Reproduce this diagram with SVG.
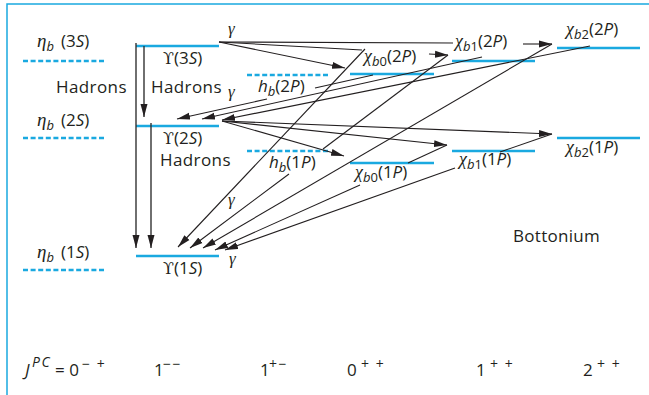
<svg xmlns="http://www.w3.org/2000/svg" width="649" height="395" viewBox="0 0 649 395">
<style>
.t{font-family:"Open Sans","Liberation Sans",sans-serif;font-size:17px;fill:#231f20}
.g{font-family:"Liberation Serif","DejaVu Serif",serif;font-style:italic}
.u{font-family:"DejaVu Serif","Liberation Serif",serif;font-size:16px}
.i{font-style:italic}
.s{font-size:13px}
.sp{font-family:"Open Sans","Liberation Sans",sans-serif;font-size:14px;fill:#231f20;letter-spacing:1.5px}
.lv{stroke:#1aa9e0;stroke-width:2.6;fill:none}
.d{stroke-dasharray:5 2.6}
.c{stroke:#231f20;stroke-width:1.1;fill:none}
.v{stroke:#333;stroke-width:1.4;fill:none}
.a{marker-end:url(#ah)}
</style>
<defs>
<marker id="ah" markerUnits="userSpaceOnUse" markerWidth="14" markerHeight="8" refX="13" refY="4" orient="auto">
<path d="M0,0.5 L13,4 L0,7.5 Z" fill="#231f20"/>
</marker>
</defs>
<path d="M7,395 V4 H649" stroke="#1aa9e0" stroke-width="1.5" fill="none"/>

<g id="etab3S"><line class="lv d" x1="23" y1="61" x2="104" y2="61"/><text class="t" x="37" y="47"><tspan class="g" font-size="19">η</tspan><tspan class="i s" dy="4">b</tspan><tspan dy="-4" dx="7">(3</tspan><tspan class="i">S</tspan>)</text></g>
<g id="etab2S"><line class="lv d" x1="23" y1="138" x2="104" y2="138"/><text class="t" x="37" y="126"><tspan class="g" font-size="19">η</tspan><tspan class="i s" dy="4">b</tspan><tspan dy="-4" dx="7">(2</tspan><tspan class="i">S</tspan>)</text></g>
<g id="etab1S"><line class="lv d" x1="23" y1="270" x2="104" y2="270"/><text class="t" x="37" y="258"><tspan class="g" font-size="19">η</tspan><tspan class="i s" dy="4">b</tspan><tspan dy="-4" dx="7">(1</tspan><tspan class="i">S</tspan>)</text></g>

<g id="ups3S"><line class="lv" x1="136" y1="46" x2="219" y2="46"/><text class="t" x="163" y="64"><tspan class="u">ϒ</tspan>(3<tspan class="i">S</tspan>)</text></g>
<g id="ups2S"><line class="lv" x1="136" y1="126" x2="219" y2="126"/><text class="t" x="163" y="144"><tspan class="u">ϒ</tspan>(2<tspan class="i">S</tspan>)</text></g>
<g id="ups1S"><line class="lv" x1="136" y1="256" x2="219" y2="256"/><text class="t" x="163" y="274"><tspan class="u">ϒ</tspan>(1<tspan class="i">S</tspan>)</text></g>

<g id="hb2P"><line class="lv d" x1="247" y1="75" x2="328" y2="75"/><text class="t" x="258" y="92"><tspan class="i">h</tspan><tspan class="i s" dy="4">b</tspan><tspan dy="-4">(2</tspan><tspan class="i">P</tspan>)</text></g>
<g id="hb1P"><line class="lv d" x1="247" y1="151" x2="328" y2="151"/><text class="t" x="269" y="168"><tspan class="i">h</tspan><tspan class="i s" dy="4">b</tspan><tspan dy="-4">(1</tspan><tspan class="i">P</tspan>)</text></g>

<g id="chib02P"><line class="lv" x1="350" y1="74" x2="434" y2="74"/><text class="t" x="364" y="62"><tspan class="g" font-size="18">χ</tspan><tspan class="s" dy="4"><tspan class="i">b</tspan>0</tspan><tspan dy="-4">(2</tspan><tspan class="i">P</tspan>)</text></g>
<g id="chib12P"><line class="lv" x1="452" y1="61" x2="535" y2="61"/><text class="t" x="455" y="47"><tspan class="g" font-size="18">χ</tspan><tspan class="s" dy="4"><tspan class="i">b</tspan>1</tspan><tspan dy="-4">(2</tspan><tspan class="i">P</tspan>)</text></g>
<g id="chib22P"><line class="lv" x1="557" y1="48" x2="640" y2="48"/><text class="t" x="566" y="35"><tspan class="g" font-size="18">χ</tspan><tspan class="s" dy="4"><tspan class="i">b</tspan>2</tspan><tspan dy="-4">(2</tspan><tspan class="i">P</tspan>)</text></g>
<g id="chib01P"><line class="lv" x1="350" y1="163" x2="434" y2="163"/><text class="t" x="355" y="178"><tspan class="g" font-size="18">χ</tspan><tspan class="s" dy="4"><tspan class="i">b</tspan>0</tspan><tspan dy="-4">(1</tspan><tspan class="i">P</tspan>)</text></g>
<g id="chib11P"><line class="lv" x1="452" y1="151" x2="535" y2="151"/><text class="t" x="459" y="165"><tspan class="g" font-size="18">χ</tspan><tspan class="s" dy="4"><tspan class="i">b</tspan>1</tspan><tspan dy="-4">(1</tspan><tspan class="i">P</tspan>)</text></g>
<g id="chib21P"><line class="lv" x1="557" y1="138" x2="640" y2="138"/><text class="t" x="566" y="153"><tspan class="g" font-size="18">χ</tspan><tspan class="s" dy="4"><tspan class="i">b</tspan>2</tspan><tspan dy="-4">(1</tspan><tspan class="i">P</tspan>)</text></g>

<g id="connectors">
<path class="v a" d="M136,43 V248"/>
<path class="v a" d="M144,46 V117"/>
<path class="v a" d="M151,123 V248"/>
<path class="c a" d="M219,42 L345,68"/>
<path class="c" d="M219,42 L362,50"/>
<path class="c a" d="M429,54 L448,55"/>
<path class="c" d="M219,42 L453,43"/>
<path class="c a" d="M523,44 L552,44"/>
<path class="c a" d="M365,49 L178,247"/>
<path class="c" d="M448,55 L323,149"/>
<path class="c a" d="M289,174 L190,248"/>
<path class="c a" d="M552,44 L203,248"/>
<path class="c" d="M447,145 L408,163"/>
<path class="c a" d="M360,185 L215,250"/>
<path class="c" d="M552,134 L500,152"/>
<path class="c a" d="M455,168 L225,250"/>
<path class="c a" d="M482,57 L202,119"/>
<path class="c a" d="M590,46 L222,120"/>
<path class="c" d="M373,75 L315,88"/>
<path class="c a" d="M267,99 L177,119"/>
<path class="c a" d="M222,121 L344,156"/>
<path class="c a" d="M222,121 L447,145"/>
<path class="c a" d="M222,121 L552,134"/>
</g>

<g id="labels">
<text class="t" x="56" y="93" letter-spacing="0.4">Hadrons</text>
<text class="t" x="151" y="93" letter-spacing="0.4">Hadrons</text>
<text class="t" x="160" y="166" letter-spacing="0.4">Hadrons</text>
<text class="t g" font-size="16" x="228" y="34">γ</text>
<text class="t g" font-size="16" x="228" y="97">γ</text>
<text class="t g" font-size="16" x="228" y="205">γ</text>
<text class="t g" font-size="16" x="229" y="264">γ</text>
<text class="t" x="513" y="242" letter-spacing="0.3">Bottonium</text>
<text class="t" x="25" y="376"><tspan class="i">J</tspan></text>
<text class="sp i" x="32" y="367">PC</text>
<text class="t" x="55" y="376">= 0</text>
<text class="sp" x="82" y="369">− +</text>
<text class="t" x="154" y="376">1</text>
<text class="sp" x="163" y="369">−−</text>
<text class="t" x="260" y="376">1</text>
<text class="sp" x="269" y="369">+−</text>
<text class="t" x="347" y="376">0</text>
<text class="sp" x="361" y="369">+ +</text>
<text class="t" x="476" y="376">1</text>
<text class="sp" x="490" y="369">+ +</text>
<text class="t" x="583" y="376">2</text>
<text class="sp" x="597" y="369">+ +</text>
</g>
</svg>
